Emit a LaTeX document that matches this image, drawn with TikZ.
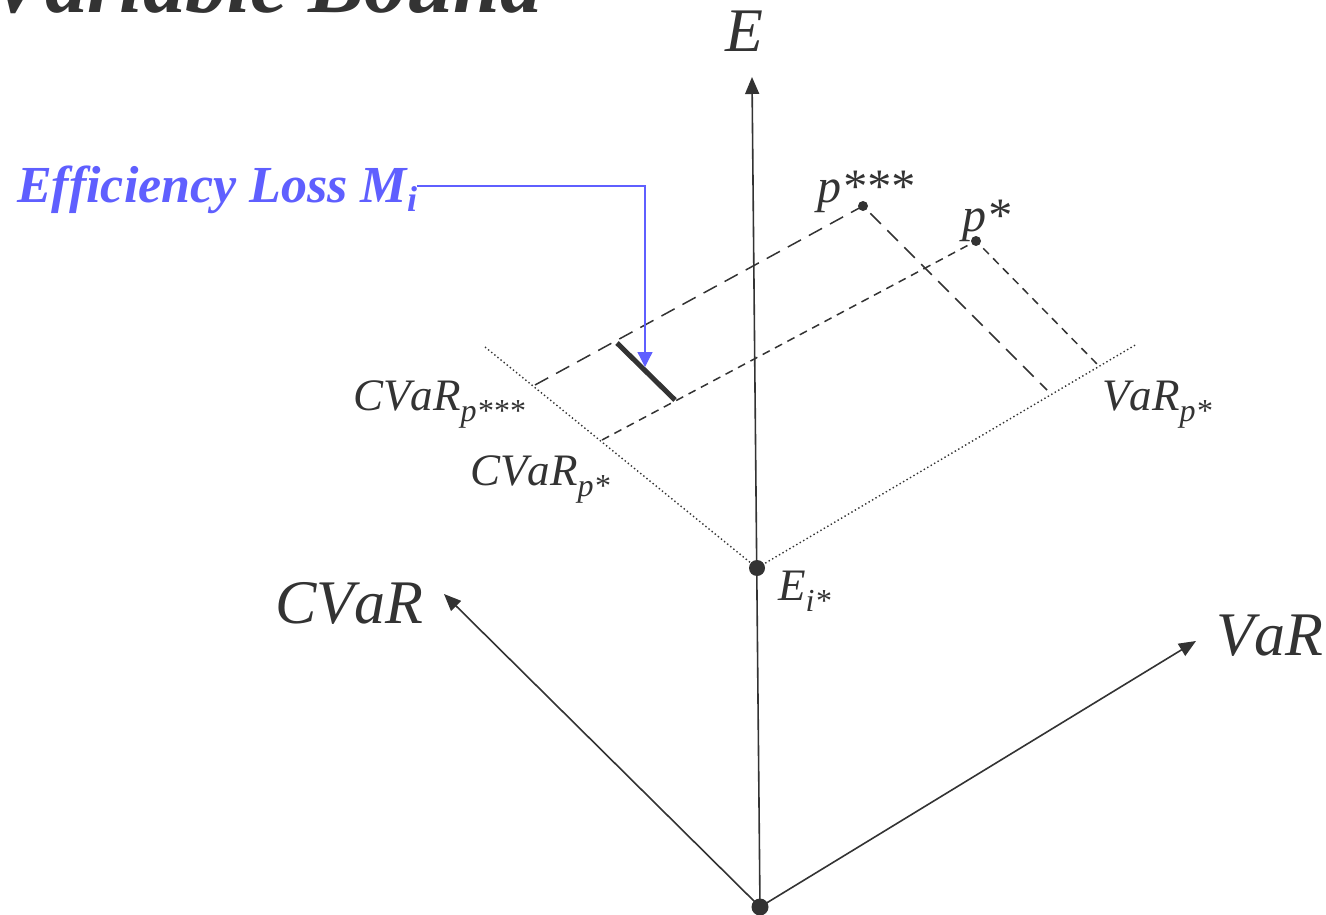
\documentclass[tikz,border=0pt]{standalone}
\usepackage{fontspec}
\setmainfont{Liberation Serif}[Kerning=Off, Ligatures=NoCommon]
\usetikzlibrary{arrows.meta}
\definecolor{dk}{HTML}{333333}
\definecolor{effblue}{HTML}{5F5FFF}
\newcommand{\mysub}[1]{\raisebox{-11pt}{\fontsize{32}{32}\selectfont #1}}
\tikzset{
  axis/.style={draw=dk, line width=1.6pt, -{Triangle[length=17pt,width=14pt]}},
  dotline/.style={draw=dk, line width=1.4pt, dash pattern=on 1.4pt off 2.6pt},
  longdash/.style={draw=dk, line width=1.5pt, dash pattern=on 15pt off 9pt},
  shortdash/.style={draw=dk, line width=1.5pt, dash pattern=on 8pt off 6pt},
  lbl/.style={inner sep=0pt, anchor=base west, text=dk, font=\itshape},
}
\begin{document}
\begin{tikzpicture}[x=1pt,y=-1pt]
\useasboundingbox (0,0) rectangle (1326,915);
% title (cut off at top, as in the reference)
\node[inner sep=0pt, anchor=base west, text=dk, font=\fontsize{84}{84}\selectfont\bfseries\itshape] (title) at (-11,13) {Variable Bound};
% coordinates
\coordinate (O) at (760,907);
\coordinate (Etip) at (752,77);
\coordinate (Ei) at (757,568);
\coordinate (Ctip) at (444,594);
\coordinate (Vtip) at (1196,641);
\coordinate (Ldot) at (485,347);
\coordinate (Rdot) at (1137,344);
\coordinate (p3) at (863,206);
\coordinate (p1) at (976,241);
\coordinate (p3L) at (535,385);
\coordinate (p3R) at (1047,390);
\coordinate (p1L) at (602,440);
\coordinate (p1R) at (1098,365);
\coordinate (barA) at (617,343);
\coordinate (barB) at (675,400);
\coordinate (bc) at (645,186);
\coordinate (btip) at (645,367);
% axes
\draw[axis] (O) -- (Etip);
\draw[axis] (O) -- (Ctip);
\draw[axis] (O) -- (Vtip);
% dotted frame
\draw[dotline] (Ldot) -- (Ei) -- (Rdot);
% dashed projections
\draw[longdash] (p3L) -- (p3) -- (p3R);
\draw[shortdash] (p1L) -- (p1) -- (p1R);
% efficiency loss bar
\draw[dk, line width=5pt] (barA) -- (barB);
% dots
\fill[dk] (O) circle (8.5pt);
\fill[dk] (Ei) circle (8pt);
\fill[dk] (p3) circle (5pt);
\fill[dk] (p1) circle (5pt);
% labels
\node[lbl, font=\fontsize{62}{62}\selectfont\itshape] (lE) at (725,52) {E};
\node[lbl, font=\fontsize{62}{62}\selectfont\itshape] (lC) at (275,623) {CVaR};
\node[lbl, font=\fontsize{62}{62}\selectfont\itshape] (lV) at (1216,655) {VaR};
\node[lbl, font=\fontsize{45}{45}\selectfont\itshape] (lEi) at (778,600) {E\mysub{i*}};
\node[lbl, font=\fontsize{48}{48}\selectfont\itshape] (lp3) at (817,203) {p***};
\node[lbl, font=\fontsize{48}{48}\selectfont\itshape] (lp1) at (962,231) {p*};
\node[lbl, font=\fontsize{45}{45}\selectfont\itshape] (lc3) at (353,410) {CVaR\mysub{p***}};
\node[lbl, font=\fontsize{45}{45}\selectfont\itshape] (lc1) at (470,485) {CVaR\mysub{p*}};
\node[lbl, font=\fontsize{45}{45}\selectfont\itshape] (lv1) at (1102,410) {VaR\mysub{p*}};
% efficiency loss annotation
\node[inner sep=0pt, anchor=base west, text=effblue, font=\fontsize{52}{52}\selectfont\bfseries\itshape] (eff) at (17,203) {Efficiency Loss M\raisebox{-9pt}{\fontsize{36}{36}\selectfont i}};
\draw[effblue, line width=1.3pt, -{Triangle[length=15pt,width=15pt]}] (eff.east |- bc) -- (bc) -- (btip);
\end{tikzpicture}
\end{document}
